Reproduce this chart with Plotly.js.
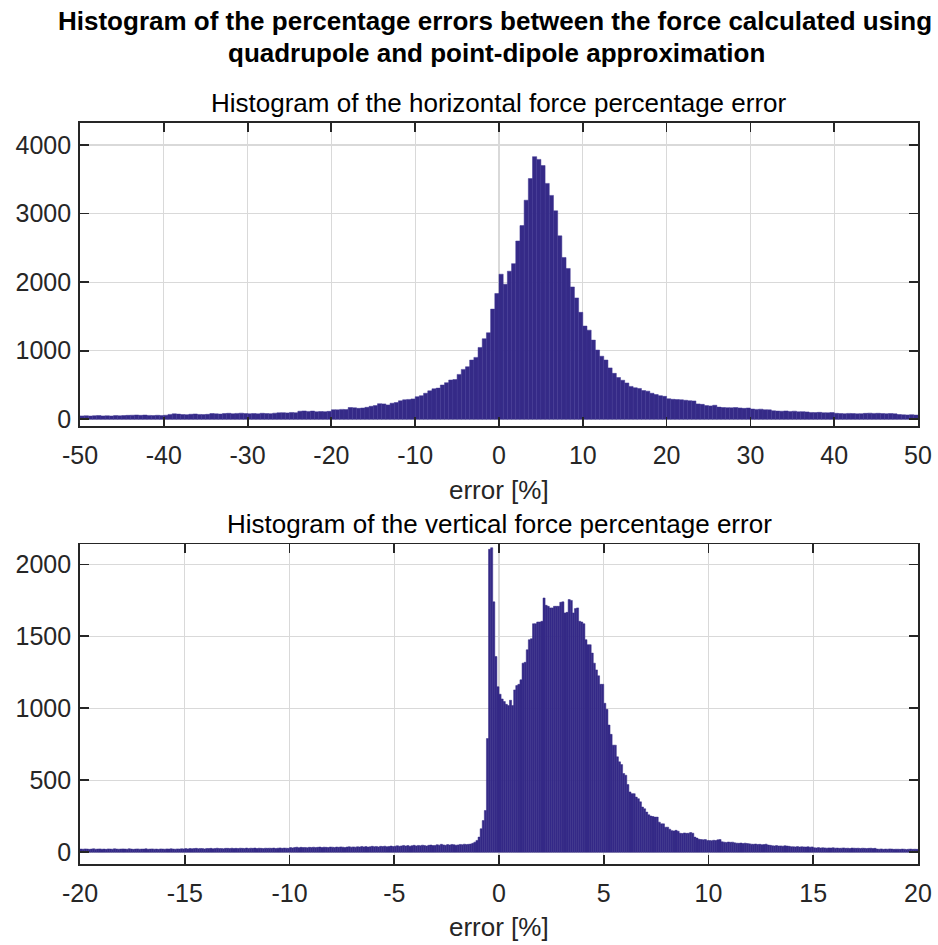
<!DOCTYPE html>
<html>
<head>
<meta charset="utf-8">
<script src="https://cdn.plot.ly/plotly-3.0.1.min.js"></script>
<style>
  html, body { margin: 0; padding: 0; background: #ffffff; }
  #chart { width: 938px; height: 945px; }
</style>
</head>
<body>
<div id="chart"></div>
<script>
// ---------- Data ----------
// Horizontal force percentage error histogram: 200 bins of width 0.5 from -50 to 50
var horizBinStart = -50;
var horizBinWidth = 0.5;
var horizCounts = [
  50,52,48,53,55,50,52,49,54,51,
  55,58,60,63,58,62,57,55,59,56,
  60,72,80,76,70,68,74,78,71,69,
  73,84,80,77,85,88,82,86,90,84,
  82,85,80,88,84,83,90,95,97,94,
  100,96,118,122,115,120,110,114,112,116,
  140,138,145,142,172,168,160,165,175,190,
  200,228,225,210,235,245,270,285,290,298,
  330,345,380,415,445,455,500,534,573,580,
  655,728,767,864,903,1048,1175,1262,1607,1835,
  2116,1970,2160,2270,2600,2825,3195,3510,3830,3790,
  3700,3440,3265,3040,2675,2360,2200,1930,1770,1560,
  1360,1300,1155,1010,920,865,750,670,610,570,
  530,480,460,450,420,410,380,362,345,335,
  300,292,288,285,278,272,268,225,218,200,
  196,205,178,172,170,168,172,166,160,165,
  150,145,148,140,138,125,120,118,122,115,
  119,110,112,108,100,98,102,96,95,99,
  88,85,82,86,84,80,83,87,90,86,
  88,84,82,85,80,70,66,64,68,62
];

// Vertical force percentage error histogram: 400 bins of width 0.1 from -20 to 20
var vertBinStart = -20;
var vertBinWidth = 0.1;
var vertCounts = [
  22,21,23,22,20,22,24,21,22,23,
  21,22,20,23,22,21,24,22,21,22,
  23,22,21,24,22,20,22,23,21,22,
  22,24,21,22,23,21,22,20,23,22,
  21,23,22,24,22,21,23,22,24,23,
  25,23,26,24,25,27,24,26,25,23,
  26,25,27,24,26,28,25,26,24,27,
  27,25,28,26,27,25,28,27,26,29,
  26,28,27,29,26,28,27,25,28,27,
  28,27,29,26,28,30,27,29,28,27,
  32,30,33,35,31,34,32,33,31,34,
  33,35,32,34,36,33,35,34,32,36,
  35,33,36,34,37,35,33,36,38,35,
  37,35,38,36,40,37,39,36,38,41,
  38,40,37,41,39,42,38,40,43,39,
  42,45,41,44,47,43,46,42,45,48,
  44,47,45,49,46,43,48,50,46,47,
  52,49,55,51,48,53,50,54,52,49,
  51,54,52,56,53,55,57,62,70,82,
  105,163,220,290,790,2105,2116,1740,1360,1150,
  1098,1065,1047,1028,1019,1056,1019,1128,1158,1167,
  1198,1314,1320,1407,1477,1484,1588,1588,1600,1600,
  1605,1767,1716,1709,1698,1698,1709,1709,1709,1737,
  1740,1663,1667,1756,1750,1663,1693,1698,1605,1600,
  1588,1477,1442,1442,1384,1314,1267,1226,1167,1167,
  1035,993,884,819,744,744,663,628,609,547,
  535,470,419,407,407,383,372,350,314,302,
  279,260,251,248,244,244,209,197,197,174,
  174,160,150,148,152,146,132,130,134,131,
  132,137,132,105,98,90,88,86,88,82,
  81,80,83,81,86,88,72,70,68,71,
  69,70,65,63,62,64,61,63,60,58,
  56,55,57,54,55,52,53,56,50,48,
  45,44,46,43,44,42,45,43,41,38,
  38,37,39,36,38,37,36,38,35,37,
  31,30,32,29,31,30,28,30,29,31,
  28,29,27,28,30,27,28,26,29,28,
  27,28,26,28,27,25,27,28,26,27,
  22,21,23,20,22,21,23,22,20,21,
  21,20,22,21,19,21,22,20,21,20
];

// Tick values and labels
var horizXTicks = [-50,-40,-30,-20,-10,0,10,20,30,40,50];
var horizXTickLabels = ['-50','-40','-30','-20','-10','0','10','20','30','40','50'];
var horizYTicks = [0,1000,2000,3000,4000];
var horizYTickLabels = ['0','1000','2000','3000','4000'];
var vertXTicks = [-20,-15,-10,-5,0,5,10,15,20];
var vertXTickLabels = ['-20','-15','-10','-5','0','5','10','15','20'];
var vertYTicks = [0,500,1000,1500,2000];
var vertYTickLabels = ['0','500','1000','1500','2000'];

var mainTitleLines = [
  'Histogram of the percentage errors between the force calculated using',
  'quadrupole and point-dipole approximation'
];
var topTitle = 'Histogram of the horizontal force percentage error';
var bottomTitle = 'Histogram of the vertical force percentage error';
var xLabel = 'error [%]';

// ---------- Build traces ----------
function centers(start, width, n) {
  var c = [];
  for (var i = 0; i < n; i++) c.push(start + (i + 0.5) * width);
  return c;
}

var barColor = '#352a87';
var edgeColor = '#3e3492';

var traceTop = {
  type: 'bar',
  x: centers(horizBinStart, horizBinWidth, horizCounts.length),
  y: horizCounts,
  width: horizBinWidth,
  marker: { color: barColor, line: { color: edgeColor, width: 0.5 } },
  xaxis: 'x', yaxis: 'y',
  hoverinfo: 'x+y',
  showlegend: false
};
var traceBottom = {
  type: 'bar',
  x: centers(vertBinStart, vertBinWidth, vertCounts.length),
  y: vertCounts,
  width: vertBinWidth,
  marker: { color: barColor, line: { color: barColor, width: 0.5 } },
  xaxis: 'x2', yaxis: 'y2',
  hoverinfo: 'x+y',
  showlegend: false
};

// ---------- Layout ----------
var FONT = 'Liberation Sans, Arial, Helvetica, sans-serif';
var H = 945, W = 938, ML = 80, MR = 20;
function py(pixY) { return 1 - pixY / H; }
function px(pixX) { return (pixX - ML) / (W - ML - MR); }

var axisCommon = {
  showgrid: true,
  gridcolor: '#d9d9d9',
  gridwidth: 1.3,
  zeroline: false,
  showline: true,
  linecolor: '#262626',
  linewidth: 1.8,
  mirror: 'ticks',
  ticks: 'inside',
  ticklen: 9,
  tickwidth: 1.8,
  tickcolor: '#262626',
  tickfont: { family: FONT, size: 25, color: '#262626' },
  tickmode: 'array',
  fixedrange: true
};

function ax(extra) {
  var o = {};
  for (var k in axisCommon) o[k] = axisCommon[k];
  for (var k2 in extra) o[k2] = extra[k2];
  return o;
}

var layout = {
  width: W,
  height: H,
  margin: { l: ML, r: MR, t: 0, b: 0 },
  paper_bgcolor: '#ffffff',
  plot_bgcolor: '#ffffff',
  bargap: 0,
  font: { family: FONT, color: '#000000' },
  xaxis: ax({ domain: [0, 1], anchor: 'y', range: [-50, 50], ticklabelstandoff: 6,
              tickvals: horizXTicks, ticktext: horizXTickLabels }),
  yaxis: ax({ domain: [py(425.7), py(122.5)], anchor: 'x', range: [-93, 4328],
              ticklabelstandoff: 2,
              tickvals: horizYTicks, ticktext: horizYTickLabels }),
  xaxis2: ax({ domain: [0, 1], anchor: 'y2', range: [-20, 20], ticklabelstandoff: 6,
               tickvals: vertXTicks, ticktext: vertXTickLabels }),
  yaxis2: ax({ domain: [py(864.3), py(544.3)], anchor: 'x2', range: [-84, 2140],
               ticklabelstandoff: 2,
               tickvals: vertYTicks, ticktext: vertYTickLabels }),
  annotations: [
    { text: '<b>' + mainTitleLines[0] + '</b>', xref: 'paper', yref: 'paper',
      x: px(494.5), y: py(21.5), xanchor: 'center', yanchor: 'middle', showarrow: false,
      font: { family: FONT, size: 26, color: '#000000' } },
    { text: '<b>' + mainTitleLines[1] + '</b>', xref: 'paper', yref: 'paper',
      x: px(496), y: py(52.5), xanchor: 'center', yanchor: 'middle', showarrow: false,
      font: { family: FONT, size: 26, color: '#000000' } },
    { text: topTitle, xref: 'paper', yref: 'paper',
      x: px(499), y: py(102.5), xanchor: 'center', yanchor: 'middle', showarrow: false,
      font: { family: FONT, size: 26, color: '#000000' } },
    { text: xLabel, xref: 'paper', yref: 'paper',
      x: px(499), y: py(490), xanchor: 'center', yanchor: 'middle', showarrow: false,
      font: { family: FONT, size: 26, color: '#262626' } },
    { text: bottomTitle, xref: 'paper', yref: 'paper',
      x: px(499), y: py(523.5), xanchor: 'center', yanchor: 'middle', showarrow: false,
      font: { family: FONT, size: 26, color: '#000000' } },
    { text: xLabel, xref: 'paper', yref: 'paper',
      x: px(499), y: py(927), xanchor: 'center', yanchor: 'middle', showarrow: false,
      font: { family: FONT, size: 26, color: '#262626' } }
  ]
};

Plotly.newPlot('chart', [traceTop, traceBottom], layout, { displayModeBar: false, staticPlot: true });
</script>
</body>
</html>
